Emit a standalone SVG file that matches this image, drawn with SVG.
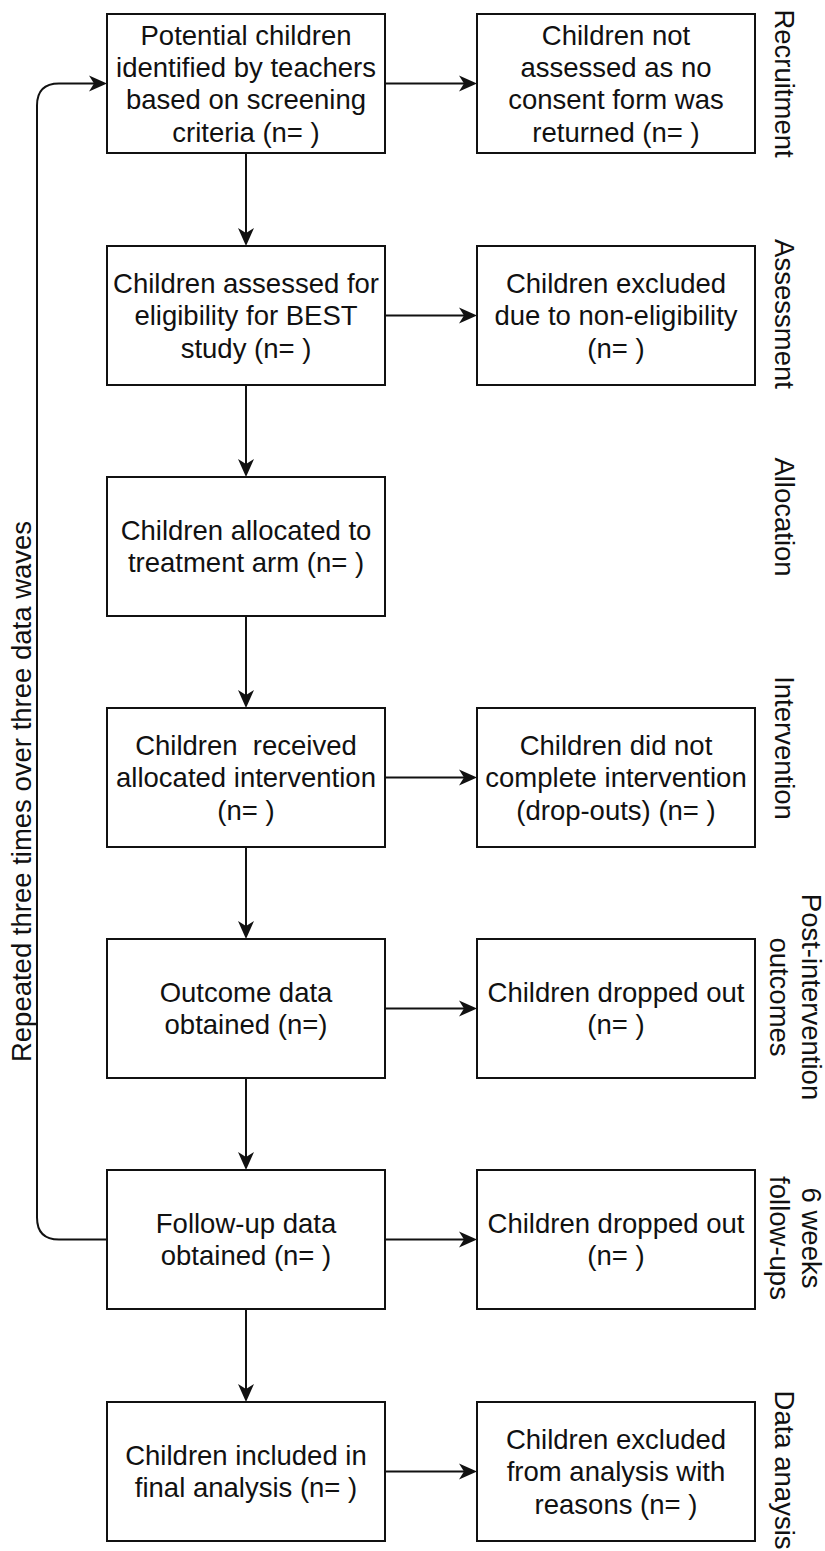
<svg xmlns="http://www.w3.org/2000/svg" width="825" height="1551" viewBox="0 0 825 1551">
<style>
.box{fill:#fff;stroke:#111;stroke-width:2}
.t{font-family:"Liberation Sans",Arial,Helvetica,sans-serif;font-size:27.5px;fill:#111;text-anchor:middle}
.c{fill:none;stroke:#111;stroke-width:2}
</style>
<defs>
<marker id="ah" markerUnits="userSpaceOnUse" viewBox="-8 -10 22 20" markerWidth="22" markerHeight="20" refX="0" refY="0" orient="auto">
<path d="M12,0 L-6,-8 L-1,0 L-6,8 Z" fill="#111"/>
</marker>
</defs>
<rect width="825" height="1551" fill="#fff"/>

<g id="connectors">
<path class="c" d="M246,153 V234" marker-end="url(#ah)"/>
<path class="c" d="M246,384 V465" marker-end="url(#ah)"/>
<path class="c" d="M246,615 V696" marker-end="url(#ah)"/>
<path class="c" d="M246,846 V927" marker-end="url(#ah)"/>
<path class="c" d="M246,1078 V1158" marker-end="url(#ah)"/>
<path class="c" d="M246,1309 V1390" marker-end="url(#ah)"/>
<path class="c" d="M385,83.5 H465" marker-end="url(#ah)"/>
<path class="c" d="M385,315.5 H465" marker-end="url(#ah)"/>
<path class="c" d="M385,777.5 H465" marker-end="url(#ah)"/>
<path class="c" d="M385,1008.5 H465" marker-end="url(#ah)"/>
<path class="c" d="M385,1239.5 H465" marker-end="url(#ah)"/>
<path class="c" d="M385,1471.5 H465" marker-end="url(#ah)"/>
<path class="c" d="M107,1239.5 H59 Q37,1239.5 37,1217.5 V105.5 Q37,83.5 59,83.5 H95" marker-end="url(#ah)"/>
</g>

<g id="n1">
<rect class="box" x="107" y="14" width="278" height="139"/>
<text class="t"><tspan x="246" y="44.6">Potential children</tspan><tspan x="246" y="77">identified by teachers</tspan><tspan x="246" y="109.4">based on screening</tspan><tspan x="246" y="141.8">criteria (n= )</tspan></text>
</g>
<g id="n1r">
<rect class="box" x="477" y="14" width="278" height="139"/>
<text class="t"><tspan x="616" y="44.6">Children not</tspan><tspan x="616" y="77">assessed as no</tspan><tspan x="616" y="109.4">consent form was</tspan><tspan x="616" y="141.8">returned (n= )</tspan></text>
</g>
<g id="n2">
<rect class="box" x="107" y="246" width="278" height="139"/>
<text class="t"><tspan x="246" y="292.8">Children assessed for</tspan><tspan x="246" y="325.2">eligibility for BEST</tspan><tspan x="246" y="357.6">study (n= )</tspan></text>
</g>
<g id="n2r">
<rect class="box" x="477" y="246" width="278" height="139"/>
<text class="t"><tspan x="616" y="292.8">Children excluded</tspan><tspan x="616" y="325.2">due to non-eligibility</tspan><tspan x="616" y="357.6">(n= )</tspan></text>
</g>
<g id="n3">
<rect class="box" x="107" y="477" width="278" height="139"/>
<text class="t"><tspan x="246" y="540">Children allocated to</tspan><tspan x="246" y="572.4">treatment arm (n= )</tspan></text>
</g>
<g id="n4">
<rect class="box" x="107" y="708" width="278" height="139"/>
<text class="t" xml:space="preserve"><tspan x="246" y="754.8">Children  received</tspan><tspan x="246" y="787.2">allocated intervention</tspan><tspan x="246" y="819.6">(n= )</tspan></text>
</g>
<g id="n4r">
<rect class="box" x="477" y="708" width="278" height="139"/>
<text class="t"><tspan x="616" y="754.8">Children did not</tspan><tspan x="616" y="787.2">complete intervention</tspan><tspan x="616" y="819.6">(drop-outs) (n= )</tspan></text>
</g>
<g id="n5">
<rect class="box" x="107" y="939" width="278" height="139"/>
<text class="t"><tspan x="246" y="1002">Outcome data</tspan><tspan x="246" y="1034.4">obtained (n=)</tspan></text>
</g>
<g id="n5r">
<rect class="box" x="477" y="939" width="278" height="139"/>
<text class="t"><tspan x="616" y="1002">Children dropped out</tspan><tspan x="616" y="1034.4">(n= )</tspan></text>
</g>
<g id="n6">
<rect class="box" x="107" y="1170" width="278" height="139"/>
<text class="t"><tspan x="246" y="1233">Follow-up data</tspan><tspan x="246" y="1265.4">obtained (n= )</tspan></text>
</g>
<g id="n6r">
<rect class="box" x="477" y="1170" width="278" height="139"/>
<text class="t"><tspan x="616" y="1233">Children dropped out</tspan><tspan x="616" y="1265.4">(n= )</tspan></text>
</g>
<g id="n7">
<rect class="box" x="107" y="1402" width="278" height="139"/>
<text class="t"><tspan x="246" y="1465">Children included in</tspan><tspan x="246" y="1497.4">final analysis (n= )</tspan></text>
</g>
<g id="n7r">
<rect class="box" x="477" y="1402" width="278" height="139"/>
<text class="t"><tspan x="616" y="1448.8">Children excluded</tspan><tspan x="616" y="1481.2">from analysis with</tspan><tspan x="616" y="1513.6">reasons (n= )</tspan></text>
</g>

<g id="labels">
<text class="t" transform="translate(31,791.5) rotate(-90)" x="0" y="0">Repeated three times over three data waves</text>
<text class="t" transform="translate(775,83.5) rotate(90)" x="0" y="0">Recruitment</text>
<text class="t" transform="translate(775,314) rotate(90)" x="0" y="0">Assessment</text>
<text class="t" transform="translate(775,517) rotate(90)" x="0" y="0">Allocation</text>
<text class="t" transform="translate(775,748) rotate(90)" x="0" y="0">Intervention</text>
<text class="t" transform="translate(802,997) rotate(90)" x="0" y="0">Post-intervention</text>
<text class="t" transform="translate(770,997) rotate(90)" x="0" y="0">outcomes</text>
<text class="t" transform="translate(802,1238) rotate(90)" x="0" y="0">6 weeks</text>
<text class="t" transform="translate(770,1238) rotate(90)" x="0" y="0">follow-ups</text>
<text class="t" transform="translate(775,1470) rotate(90)" x="0" y="0">Data anaysis</text>
</g>
</svg>
